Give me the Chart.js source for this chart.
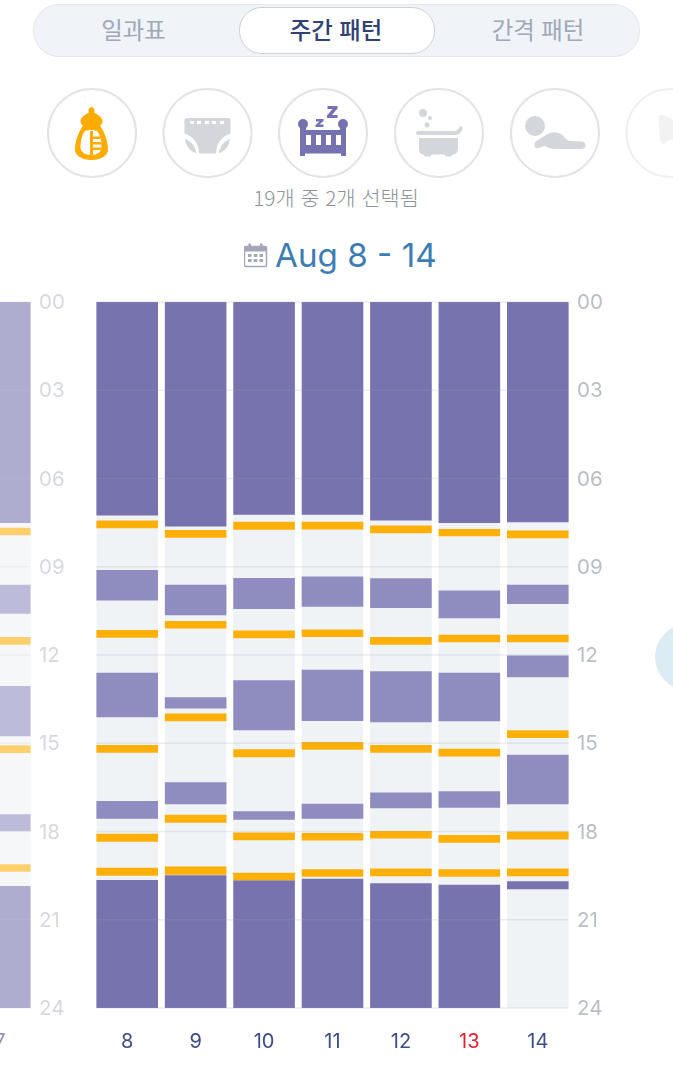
<!DOCTYPE html>
<html lang="ko">
<head>
<meta charset="utf-8">
<title>주간 패턴</title>
<script src="https://cdn.jsdelivr.net/npm/chart.js@4"></script>
<style>
  html, body { margin: 0; padding: 0; background: #fff; }
  body { position: relative; width: 673px; height: 1080px; overflow: hidden;
         font-family: "Noto Sans CJK KR", "Noto Sans", sans-serif; }
  .abs { position: absolute; }
  .segments { left: 33px; top: 4px; width: 605px; height: 51px; box-sizing: content-box;
              background: #f0f3f7; border: 1px solid #e3e7eb; border-radius: 26px; }
  .active { left: 239px; top: 7px; width: 194px; height: 45px;
            background: #fff; border: 1px solid #ccd0d6; border-radius: 23px; }
  .seg { top: 28.500px; transform: translate(-50%, -50%); font-size: 23.4px; color: #a0a8b8; white-space: nowrap; }
  .seg.on { color: #2f4272; font-weight: 500; }
  .count { left: 336px; top: 196.500px; transform: translate(-50%, -50%); font-size: 20.8px; color: #8f9297;
           font-weight: 300; white-space: nowrap; }
  .range { left: 275px; top: 255px; transform: translateY(-50%); font: 400 33.2px Inter, sans-serif;
           color: #3d7cb3; white-space: nowrap; }
  .peek { left: 655px; top: 624px; width: 66px; height: 66px; border-radius: 50%; background: #dcecf4; }
  canvas { position: absolute; top: 280px; }
  #previousWeek { left: -34.45px; opacity: .59; }
  #currentWeek { left: 93.3px; }
</style>
</head>
<body>
<div class="abs segments"></div>
<div class="abs active"></div>
<div class="abs seg" style="left:133.500px">일과표</div>
<div class="abs seg on" style="left:336px">주간 패턴</div>
<div class="abs seg" style="left:538px">간격 패턴</div>

<!-- Activity filter icons -->
<svg class="abs" style="left:0;top:85px" width="673" height="100" viewBox="0 85 673 100">
  <g fill="#fff" stroke="#e4e4e6" stroke-width="2">
    <circle cx="92" cy="133" r="44"/>
    <circle cx="207.500" cy="133" r="44"/>
    <circle cx="323" cy="133" r="44"/>
    <circle cx="439" cy="133" r="44"/>
    <circle cx="555" cy="133" r="44"/>
    <circle cx="670.500" cy="133" r="44" stroke="#f0f0f1"/>
  </g>
  <!-- bottle -->
  <path fill="#ffab00" d="M91 107c2 0 3.500 1.500 3.500 3.500v2.500c4 1.500 8 5 8 8 0 2-1 3.500-2.500 4.500 4 6 8 15 8 24 0 6-7 10.500-16.500 10.500s-16.500-4.500-16.500-10.500c0-9 4-18 8-24-1.500-1-2.500-2.500-2.500-4.500 0-3 4-6.500 8-8v-2.500c0-2 1.500-3.500 3.500-3.500z"/>
  <path fill="#fff" d="M91 130c3 0 5 .5 6.500 1.500 2.500 3.500 4 9.500 4 16 0 4.500-4.500 7.500-10.500 7.500-6 0-10.500-3-10.500-7.500 0-6.500 1.500-12.500 4-16 1.500-1 3.500-1.500 6.500-1.500z"/>
  <g fill="#ffab00">
    <rect x="90" y="131" width="3" height="24"/>
    <rect x="90" y="136.500" width="10" height="2.500"/>
    <rect x="90" y="142" width="11.500" height="2.500"/>
    <rect x="90" y="147.500" width="12" height="2.500"/>
  </g>
  <!-- diaper -->
  <path fill="#d3d6da" d="M187 118h41c1.500 0 2.500 1 2.500 2.500v13c-7 2-12.500 8-14 15l-.5 5h-17l-.5-5c-1.500-7-7-13-14-15v-13c0-1.500 1-2.500 2.500-2.500z"/>
  <g fill="#fff"><rect x="190" y="121" width="4" height="3"/><rect x="197" y="121" width="4" height="3"/><rect x="205" y="121" width="4" height="3"/><rect x="212" y="121" width="4" height="3"/><rect x="220" y="121" width="4" height="3"/></g>
  <path fill="#d3d6da" d="M185 139c5 1.500 9.500 6 11.500 14-6-1-10.500-7-11.500-14zM230 139c-5 1.500-9.500 6-11.500 14 6-1 10.500-7 11.500-14z"/>
  <!-- crib -->
  <g fill="#7472b0">
    <circle cx="303" cy="124" r="5"/><circle cx="343" cy="124" r="5"/>
    <path d="M300 126h6v4h34v-4h6v30h-5v-2.500h-36v2.500h-5z"/>
    <path d="M316 119h7.500v2l-4 3.500h4v2.500h-8v-2l4-3.500h-3.500zM327.500 106h10v2.500l-5.500 6.500h5.500v3h-10.500v-2.500l5.500-6.500h-5z"/>
  </g>
  <g fill="#fff"><rect x="306" y="135" width="5" height="10"/><rect x="316" y="135" width="5" height="10"/><rect x="326" y="135" width="5" height="10"/><rect x="336" y="135" width="5" height="10"/></g>
  <!-- bathtub -->
  <g fill="#d3d6da">
    <circle cx="423" cy="113" r="4"/><circle cx="430" cy="118" r="2"/><circle cx="427" cy="125" r="2.500"/>
    <path d="M418 131h36c3 0 4.500-1.500 5.500-4 1-1.500 3.500-.5 3 1.500-1 4-3.500 6.500-8 6.500h-36.500c-2.500 0-2.500-4 0-4z"/>
    <path d="M419 138h39v10c0 4-2 6.500-5.500 6.500l-1.500 2h-5l-1.500-2h-13l-1.500 2h-5l-1.500-2c-3.500 0-4.500-2.500-4.500-6.500z"/>
  </g>
  <!-- baby on tummy -->
  <g fill="#d3d6da" transform="translate(3 -5)">
    <circle cx="532" cy="131" r="10"/>
    <path d="M532 147c5-3 10-7 15-9 6-2 12 0 15 5 3 3.500 5 3 16 3.500 3 0 4.500 2 4.500 4s-1.500 3.500-4 3.500h-26c-5 0-8-2-11-3l-6 2c-2 .7-4-.5-4-2.500 0-1 0-2.500.5-3.500z"/>
  </g>
  <path fill="#f2f2f3" d="M660 115c4 0 9 2 13 5v20c-4-1-7 2-9 5-3-2-4.500-5-4.500-10 0-7-2-13 .5-20z"/>
</svg>

<div class="abs count">19개 중 2개 선택됨</div>

<!-- Calendar glyph next to the date range -->
<svg class="abs" style="left:244px;top:243px" width="24" height="25" viewBox="0 0 24 25">
  <rect x=".5" y="3.500" width="22" height="20" rx="1.500" fill="#fff" stroke="#a3a6b8" stroke-width="1.500"/>
  <rect x=".5" y="3.500" width="22" height="5" fill="#a3a6b8"/>
  <rect x="4.500" y=".5" width="2.500" height="5" fill="#a3a6b8"/>
  <rect x="16" y=".5" width="2.500" height="5" fill="#a3a6b8"/>
  <g fill="#a3a6b8">
    <rect x="4" y="11" width="3.500" height="3"/><rect x="9.800" y="11" width="3.500" height="3"/><rect x="15.500" y="11" width="3.500" height="3"/>
    <rect x="4" y="16" width="3.500" height="3"/><rect x="9.800" y="16" width="3.500" height="3"/><rect x="15.500" y="16" width="3.500" height="3"/>
  </g>
</svg>
<div class="abs range">Aug 8 - 14</div>

<div class="abs peek"></div>

<canvas id="previousWeek" width="108" height="780" style="width:108px;height:780px"></canvas>
<canvas id="currentWeek" width="519" height="780" style="width:519px;height:780px"></canvas>

<script>
// Hour ticks on the vertical axis
const hourTicks = [0, 3, 6, 9, 12, 15, 18, 21, 24];

// Days of the week on display, in order; 13 is a Sunday
const weekDays = ['8', '9', '10', '11', '12', '13', '14'];
const sundayLabels = ['13'];

// Night sleep, per day: [start hour, end hour]
const nightSleep = [
  [[0, 7.26], [19.65, 24]],
  [[0, 7.63], [19.49, 24]],
  [[0, 7.23], [19.66, 24]],
  [[0, 7.23], [19.61, 24]],
  [[0, 7.43], [19.76, 24]],
  [[0, 7.51], [19.81, 24]],
  [[0, 7.49], [19.69, 19.96]]
];

// Daytime naps, per day
const naps = [
  [[9.11, 10.15], [12.6, 14.12], [16.96, 17.57]],
  [[9.61, 10.65], [13.44, 13.82], [16.33, 17.07]],
  [[9.38, 10.44], [12.86, 14.56], [17.31, 17.6]],
  [[9.33, 10.36], [12.5, 14.24], [17.06, 17.57]],
  [[9.39, 10.4], [12.55, 14.29], [16.67, 17.21]],
  [[9.81, 10.75], [12.6, 14.25], [16.63, 17.19]],
  [[9.61, 10.27], [12.02, 12.76], [15.39, 17.07]]
];

// Feedings, per day
const feedings = [
  [[7.43, 7.69], [11.15, 11.41], [15.06, 15.32], [18.08, 18.35], [19.23, 19.5]],
  [[7.75, 8.01], [10.84, 11.1], [13.99, 14.25], [17.43, 17.7], [19.19, 19.47]],
  [[7.47, 7.74], [11.17, 11.43], [15.2, 15.48], [18.03, 18.3], [19.4, 19.66]],
  [[7.47, 7.73], [11.13, 11.39], [14.96, 15.22], [18.05, 18.31], [19.28, 19.54]],
  [[7.6, 7.86], [11.39, 11.65], [15.06, 15.32], [17.98, 18.24], [19.26, 19.52]],
  [[7.72, 7.96], [11.31, 11.57], [15.19, 15.45], [18.12, 18.38], [19.28, 19.54]],
  [[7.77, 8.03], [11.31, 11.57], [14.56, 14.82], [18, 18.27], [19.26, 19.52]]
];

// Last day of the previous week, shown scrolled partly out of view
const previousDays = ['7'];
const previousNight = [[[0, 7.51], [19.85, 24]]];
const previousNaps = [[[9.61, 10.6], [13.05, 14.76], [17.41, 17.99]]];
const previousFeedings = [[[7.67, 7.93], [11.39, 11.65], [15.07, 15.33], [19.11, 19.37]]];

const dayRange = [0, 24];

const COLORS = { night: '#7673ae', nap: '#8f8dbf', feed: '#feb008', track: '#eff3f6',
                 tick: '#b9bdc6', grid: 'rgba(160,165,190,.2)', day: '#3b4c86', sunday: '#e0202c' };

// Flatten per-day intervals into floating bar points
const points = (labels, perDay) =>
  labels.flatMap((label, i) => perDay[i].map(span => ({ x: label, y: span })));

// Horizontal hour lines running from the first bar's edge to the last bar's edge
const hourLines = {
  id: 'hourLines',
  afterDatasetsDraw(chart) {
    const { ctx, scales: { x, y } } = chart;
    const half = x.getPixelForTick(0) - x.left - 30.75;
    ctx.save();
    ctx.strokeStyle = COLORS.grid;
    ctx.lineWidth = 1.5;
    y.ticks.forEach(t => {
      const py = y.getPixelForValue(t.value);
      ctx.beginPath();
      ctx.moveTo(x.left + half, py);
      ctx.lineTo(x.right - half, py);
      ctx.stroke();
    });
    ctx.restore();
  }
};

function drawWeek(canvasId, labels, night, nap, feed) {
  const bar = { grouped: false, barPercentage: 0.9, categoryPercentage: 1 };
  new Chart(document.getElementById(canvasId), {
    type: 'bar',
    plugins: [hourLines],
    data: {
      labels,
      // The first dataset is painted last, so feedings sit on top
      datasets: [
        { label: '수유', data: points(labels, feed), backgroundColor: COLORS.feed, ...bar },
        { label: '밤잠', data: points(labels, night), backgroundColor: COLORS.night, ...bar },
        { label: '낮잠', data: points(labels, nap), backgroundColor: COLORS.nap, ...bar },
        { label: '배경', data: labels.map(d => ({ x: d, y: dayRange })), backgroundColor: COLORS.track, ...bar }
      ]
    },
    options: {
      responsive: false,
      animation: false,
      layout: { padding: { top: 22, left: 0, right: 0, bottom: 0 } },
      plugins: { legend: { display: false }, tooltip: { enabled: false } },
      scales: {
        x: {
          type: 'category',
          offset: true,
          grid: { display: false, drawTicks: false },
          border: { display: false },
          afterFit: s => { s.height = 52; },
          ticks: {
            padding: 22,
            font: { family: 'Inter', size: 20 },
            color: c => sundayLabels.includes(c.tick.label) ? COLORS.sunday : COLORS.day
          }
        },
        y: {
          position: 'right',
          reverse: true,
          min: hourTicks[0],
          max: hourTicks[hourTicks.length - 1],
          grid: { display: false, drawTicks: false },
          border: { display: false },
          afterFit: s => { s.width = 40; },
          afterBuildTicks: s => { s.ticks = hourTicks.map(value => ({ value })); },
          ticks: {
            padding: 5,
            labelOffset: 1,
            font: { family: 'Inter', size: 20.5 },
            color: COLORS.tick,
            callback: v => String(v).padStart(2, '0')
          }
        }
      }
    }
  });
}

drawWeek('previousWeek', previousDays, previousNight, previousNaps, previousFeedings);
drawWeek('currentWeek', weekDays, nightSleep, naps, feedings);
</script>
</body>
</html>
